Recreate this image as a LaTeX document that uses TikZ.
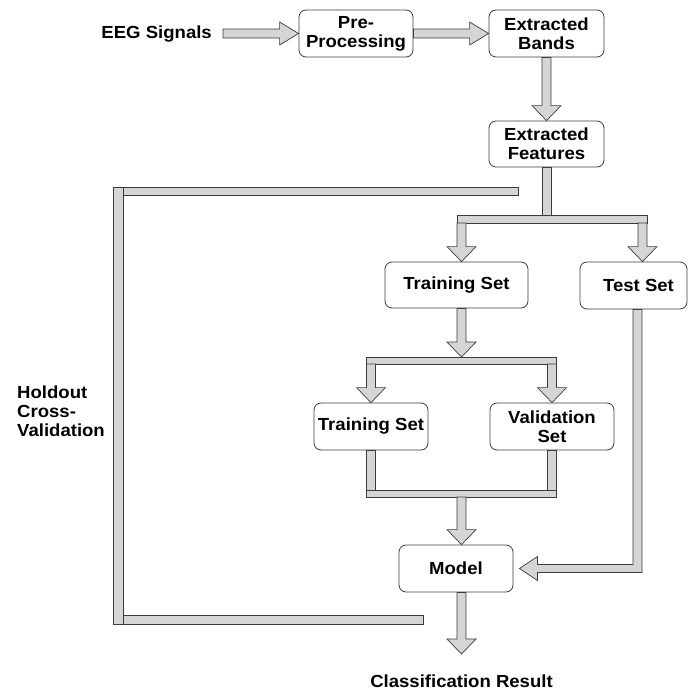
\documentclass[tikz,border=0pt]{standalone}
\usepackage{fontspec}
\setmainfont[FakeStretch=1.06]{Liberation Sans}
\usetikzlibrary{calc}
\definecolor{shaftfill}{HTML}{D5D5D5}
\definecolor{edgeline}{HTML}{3C3C3C}

% block arrow pointing down: #1 start of shaft, #2 tip (same x)
\newcommand\fatdown[2]{\draw[fat] ($(#1)+(-4.5,0)$) -- ($(#2)+(-4.5,-15)$) -- ($(#2)+(-14.5,-15)$) -- (#2)
  -- ($(#2)+(14.5,-15)$) -- ($(#2)+(4.5,-15)$) -- ($(#1)+(4.5,0)$) -- cycle;}
% block arrow pointing right: #1 start of shaft, #2 tip (same y)
\newcommand\fatright[2]{\draw[fat] ($(#1)+(0,-4.5)$) -- ($(#2)+(-19,-4.5)$) -- ($(#2)+(-19,-11.5)$) -- (#2)
  -- ($(#2)+(-19,11.5)$) -- ($(#2)+(-19,4.5)$) -- ($(#1)+(0,4.5)$) -- cycle;}
% vertical shaft without a head
\newcommand\fatstem[2]{\draw[fat] ($(#1)+(-4.5,0)$) rectangle ($(#2)+(4.5,0)$);}

\begin{document}
\begin{tikzpicture}[x=1pt,y=-1pt,
  every node/.style={font=\fontsize{17.5}{19}\selectfont\bfseries, text=black},
  box/.style={draw=edgeline, line width=0.8pt, rounded corners=7pt, fill=white,
              align=center, inner sep=0pt},
  fat/.style={draw=edgeline, line width=0.7pt, fill=shaftfill, line join=miter},
]
\useasboundingbox (0,0) rectangle (688,691);

% processing blocks
\node[box, minimum width=114pt, minimum height=47pt] (pre)      at (356,33.5)  {Pre-\\Processing};
\node[box, minimum width=115pt, minimum height=47pt] (bands)    at (546.5,33.5){Extracted\\Bands};
\node[box, minimum width=115pt, minimum height=46pt] (feat)     at (546.5,144) {Extracted\\Features};
\node[box, minimum width=143pt, minimum height=46pt] (train)    at (456.5,285) {Training Set};
\node[box, minimum width=107pt, minimum height=47pt] (test)     at (633.5,285.5){\hspace*{10pt}Test Set};
\node[box, minimum width=114pt, minimum height=47pt] (subtrain) at (371,426.5) {Training Set};
\node[box, minimum width=124pt, minimum height=47pt] (valid)    at (552,426.5) {Validation\\Set};
\node[box, minimum width=114pt, minimum height=47pt] (model)    at (456,568.5) {Model};

% free labels
\node[anchor=base east, inner sep=0pt] (eeg)    at (212,38)  {EEG Signals};
\node[anchor=base, inner sep=0pt]      (result) at (461.5,687) {Classification Result};
\node[anchor=north west, align=left, inner sep=0pt] (holdout) at (17,386) {Holdout\\Cross-\\Validation};

% helper coordinates
\coordinate (c1) at (461.5,0);   % main column
\coordinate (c2) at (642.5,0);   % test-set branch column
\coordinate (s1w) at (457,215);  \coordinate (s1e) at (647,223);   % upper split bar
\coordinate (s2w) at ($(subtrain.north |- 0,357)+(-4.5,0)$);
\coordinate (s2e) at ($(valid.north |- 0,364)+(4.5,0)$);           % lower split bar
\coordinate (m1) at ($(subtrain.south |- 0,490)+(-4.5,0)$);
\coordinate (m2) at ($(valid.south |- 0,497)+(4.5,0)$);            % merge bar
\coordinate (eegout) at ($(eeg.base east)+(11,-4.5)$);
\coordinate (restip) at ($(result.base)+(0,-33)$);
\coordinate (tdrop) at ($(test.south)+(4,0)$);
\coordinate (mtip) at ($(model.east)+(6,0)$);
\coordinate (bend) at (tdrop |- model.east);

% top row
\fatright{eegout}{pre.west}
\fatright{pre.east}{bands.west}
\fatdown{bands.south}{feat.north}

% split into training and test sets
\fatstem{feat.south}{feat.south |- s1w}
\draw[fat] (s1w) rectangle (s1e);
\fatdown{c1 |- s1e}{c1 |- train.north}
\fatdown{c2 |- s1e}{c2 |- test.north}

% split of the training set
\fatdown{c1 |- train.south}{c1 |- s2w}
\draw[fat] (s2w) rectangle (s2e);
\fatdown{subtrain.north |- s2e}{subtrain.north}
\fatdown{valid.north |- s2e}{valid.north}

% merge into the model
\fatstem{subtrain.south}{subtrain.south |- m1}
\fatstem{valid.south}{valid.south |- m1}
\draw[fat] (m1) rectangle (m2);
\fatdown{c1 |- m2}{c1 |- model.north}

% test set into the model
\draw[fat] ($(tdrop)+(-4.5,0)$) -- ($(bend)+(-4.5,-4)$) -- ($(mtip)+(18,-4)$) -- ($(mtip)+(18,-12)$)
  -- (mtip) -- ($(mtip)+(18,12)$) -- ($(mtip)+(18,4)$) -- ($(bend)+(4.5,4)$) -- ($(tdrop)+(4.5,0)$) -- cycle;

% model output
\fatdown{c1 |- model.south}{restip}

% holdout cross-validation bracket
\coordinate (fbtop) at (518,187);
\coordinate (fbbot) at (423,624);
\draw[fat] (113,187) rectangle (123,624);
\draw[fat] (123,187) rectangle ($(fbtop)+(0,8)$);
\draw[fat] (123,615) rectangle (fbbot);
\end{tikzpicture}
\end{document}
